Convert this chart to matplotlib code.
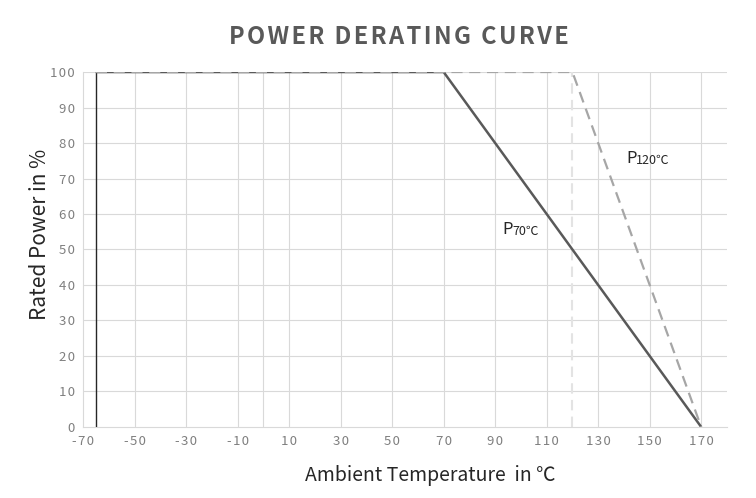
"""
Power derating curve chart.
"""
import matplotlib
matplotlib.use("Agg")
import matplotlib.pyplot as plt

# ---- data ----
p70_temp = [-65, 70, 170]
p70_power = [100, 100, 0]
p120_temp = [-65, 120, 170]
p120_power = [100, 100, 0]
start_temp = [-65, -65]
start_power = [0, 100]
marker120_temp = [120, 120]
marker120_power = [0, 100]

x_ticks = list(range(-70, 171, 20))
x_grid = list(range(-50, 171, 20)) + [0]
y_ticks = list(range(0, 101, 10))

FONT = ["Noto Sans CJK SC", "DejaVu Sans"]
plt.rcParams["font.family"] = FONT
plt.rcParams["axes.unicode_minus"] = False

HAIR = "\u200a"


def spaced(s):
    """Add a little letter spacing, like the original chart."""
    return HAIR.join(s)


fig = plt.figure(figsize=(7.56, 4.98), dpi=100)
fig.patch.set_facecolor("white")
ax = fig.add_axes([0.1098, 0.1426, 0.8518, 0.7128])

# grid
for gx in x_grid:
    ax.axvline(gx, color="#d9d9d9", lw=0.8, zorder=0)
for gy in y_ticks[1:]:
    ax.axhline(gy, color="#d9d9d9", lw=0.8, zorder=0)

# curves
ax.plot(marker120_temp, marker120_power, color="#e3e3e3", lw=1.5,
        ls=(0, (5, 3)), zorder=1)
ax.plot(start_temp, start_power, color="#262626", lw=1.0, zorder=3)
ax.plot(p70_temp, p70_power, color="#595959", lw=1.8, zorder=3,
        solid_capstyle="butt")
ax.plot(p120_temp, p120_power, color="#a6a6a6", lw=1.6, ls=(0, (5, 3)),
        zorder=4)

# labels on curves: big P with smaller temperature right after it
for lx, ly, sub in [(93, 54.5, "70℃"), (141, 74.3, "120℃")]:
    ax.text(lx, ly, "P", fontsize=12, color="#262626", ha="left",
            va="baseline")
    ax.annotate(sub, xy=(lx, ly), xytext=(6.6, -0.8),
                textcoords="offset points", fontsize=9, color="#262626",
                ha="left", va="baseline")

ax.set_xlim(-70, 180)
ax.set_ylim(0, 100)
ax.set_xticks(x_ticks)
ax.set_xticklabels([spaced(str(t)) for t in x_ticks])
ax.set_yticks(y_ticks)
ax.set_yticklabels([spaced(str(t)) for t in y_ticks])
ax.tick_params(axis="both", length=0, labelsize=9.5, labelcolor="#7f7f7f",
               pad=6)

for side in ("top", "right"):
    ax.spines[side].set_visible(False)
for side in ("bottom", "left"):
    ax.spines[side].set_color("#d9d9d9")
    ax.spines[side].set_linewidth(0.8)

ax.set_xlabel("Ambient Temperature  in ℃", fontsize=14, color="#262626")
ax.xaxis.set_label_coords(0.54, -0.108)
ax.set_ylabel("Rated Power in %", fontsize=15, color="#262626")
ax.yaxis.set_label_coords(-0.05, 0.544)

fig.text(0.528, 0.926, spaced("POWER DERATING CURVE"), fontsize=17,
         fontweight="bold", color="#595959", ha="center", va="center")

fig.savefig("out.png", dpi=100, facecolor="white")
